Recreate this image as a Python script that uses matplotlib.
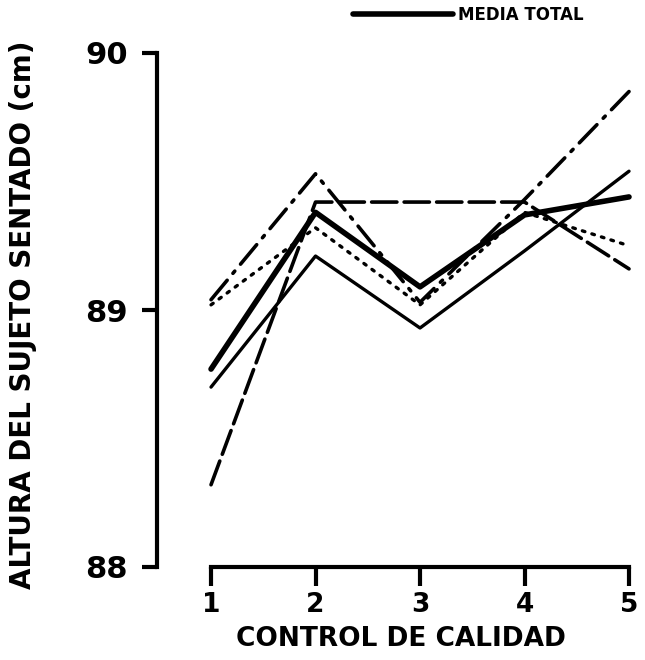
import matplotlib
matplotlib.use("Agg")
import matplotlib.pyplot as plt

# control de calidad 1..5
controles = [1, 2, 3, 4, 5]

media_total = [88.77, 89.38, 89.09, 89.37, 89.44]
serie_fina = [88.70, 89.21, 88.93, 89.23, 89.54]
serie_rayas = [88.32, 89.42, 89.42, 89.42, 89.16]
serie_raya_punto = [89.04, 89.53, 89.03, 89.43, 89.85]
serie_puntos = [89.02, 89.32, 89.02, 89.38, 89.25]

y_ticks = [88, 89, 90]

fig = plt.figure(figsize=(6.45, 6.6), dpi=100)
ax = fig.add_axes([157 / 645, 1 - 567 / 660, 1 - 157 / 645, (567 - 53) / 660])

kw = dict(color="black", solid_capstyle="round", dash_capstyle="round", clip_on=False)
ax.plot(controles, serie_fina, lw=2.4, **kw)
ax.plot(controles, serie_rayas, lw=2.6, dashes=(7, 2), **kw)
ax.plot(controles, serie_raya_punto, lw=2.6, dashes=(7, 2.5, 0.8, 2.5), **kw)
ax.plot(controles, serie_puntos, lw=2.4, dashes=(0.8, 2.2), **kw)
linea_media, = ax.plot(controles, media_total, lw=4, **kw)

ax.set_xlim(0.483, 5.153)
ax.set_ylim(88, 90)

for s in ["top", "right"]:
    ax.spines[s].set_visible(False)
ax.spines["left"].set_linewidth(3)
ax.spines["bottom"].set_linewidth(3)
ax.spines["left"].set_bounds(88, 90)
ax.spines["bottom"].set_bounds(1, 5)

ax.set_yticks(y_ticks)
ax.set_yticklabels([str(v) for v in y_ticks])
ax.set_xticks(controles)
ax.set_xticklabels([str(v) for v in controles])
ax.tick_params(axis="y", direction="out", length=11, width=3, pad=10,
               labelsize=22)
ax.tick_params(axis="x", direction="out", length=14, width=3, pad=4,
               labelsize=19)
for lab in ax.get_xticklabels() + ax.get_yticklabels():
    lab.set_fontweight("bold")

ax.set_ylabel("ALTURA DEL SUJETO SENTADO (cm)", fontsize=20, fontweight="bold")
ax.yaxis.set_label_coords(-0.245, 0.49)
ax.set_xlabel("CONTROL DE CALIDAD", fontsize=19, fontweight="bold", labelpad=6)

fig.legend([linea_media], ["MEDIA TOTAL"], loc="center left",
           bbox_to_anchor=(345 / 645, 1 - 15 / 660), frameon=False,
           handlelength=6.0, handletextpad=0.3, borderpad=0,
           prop={"weight": "bold", "size": 12})

fig.savefig("out.png", dpi=100)
